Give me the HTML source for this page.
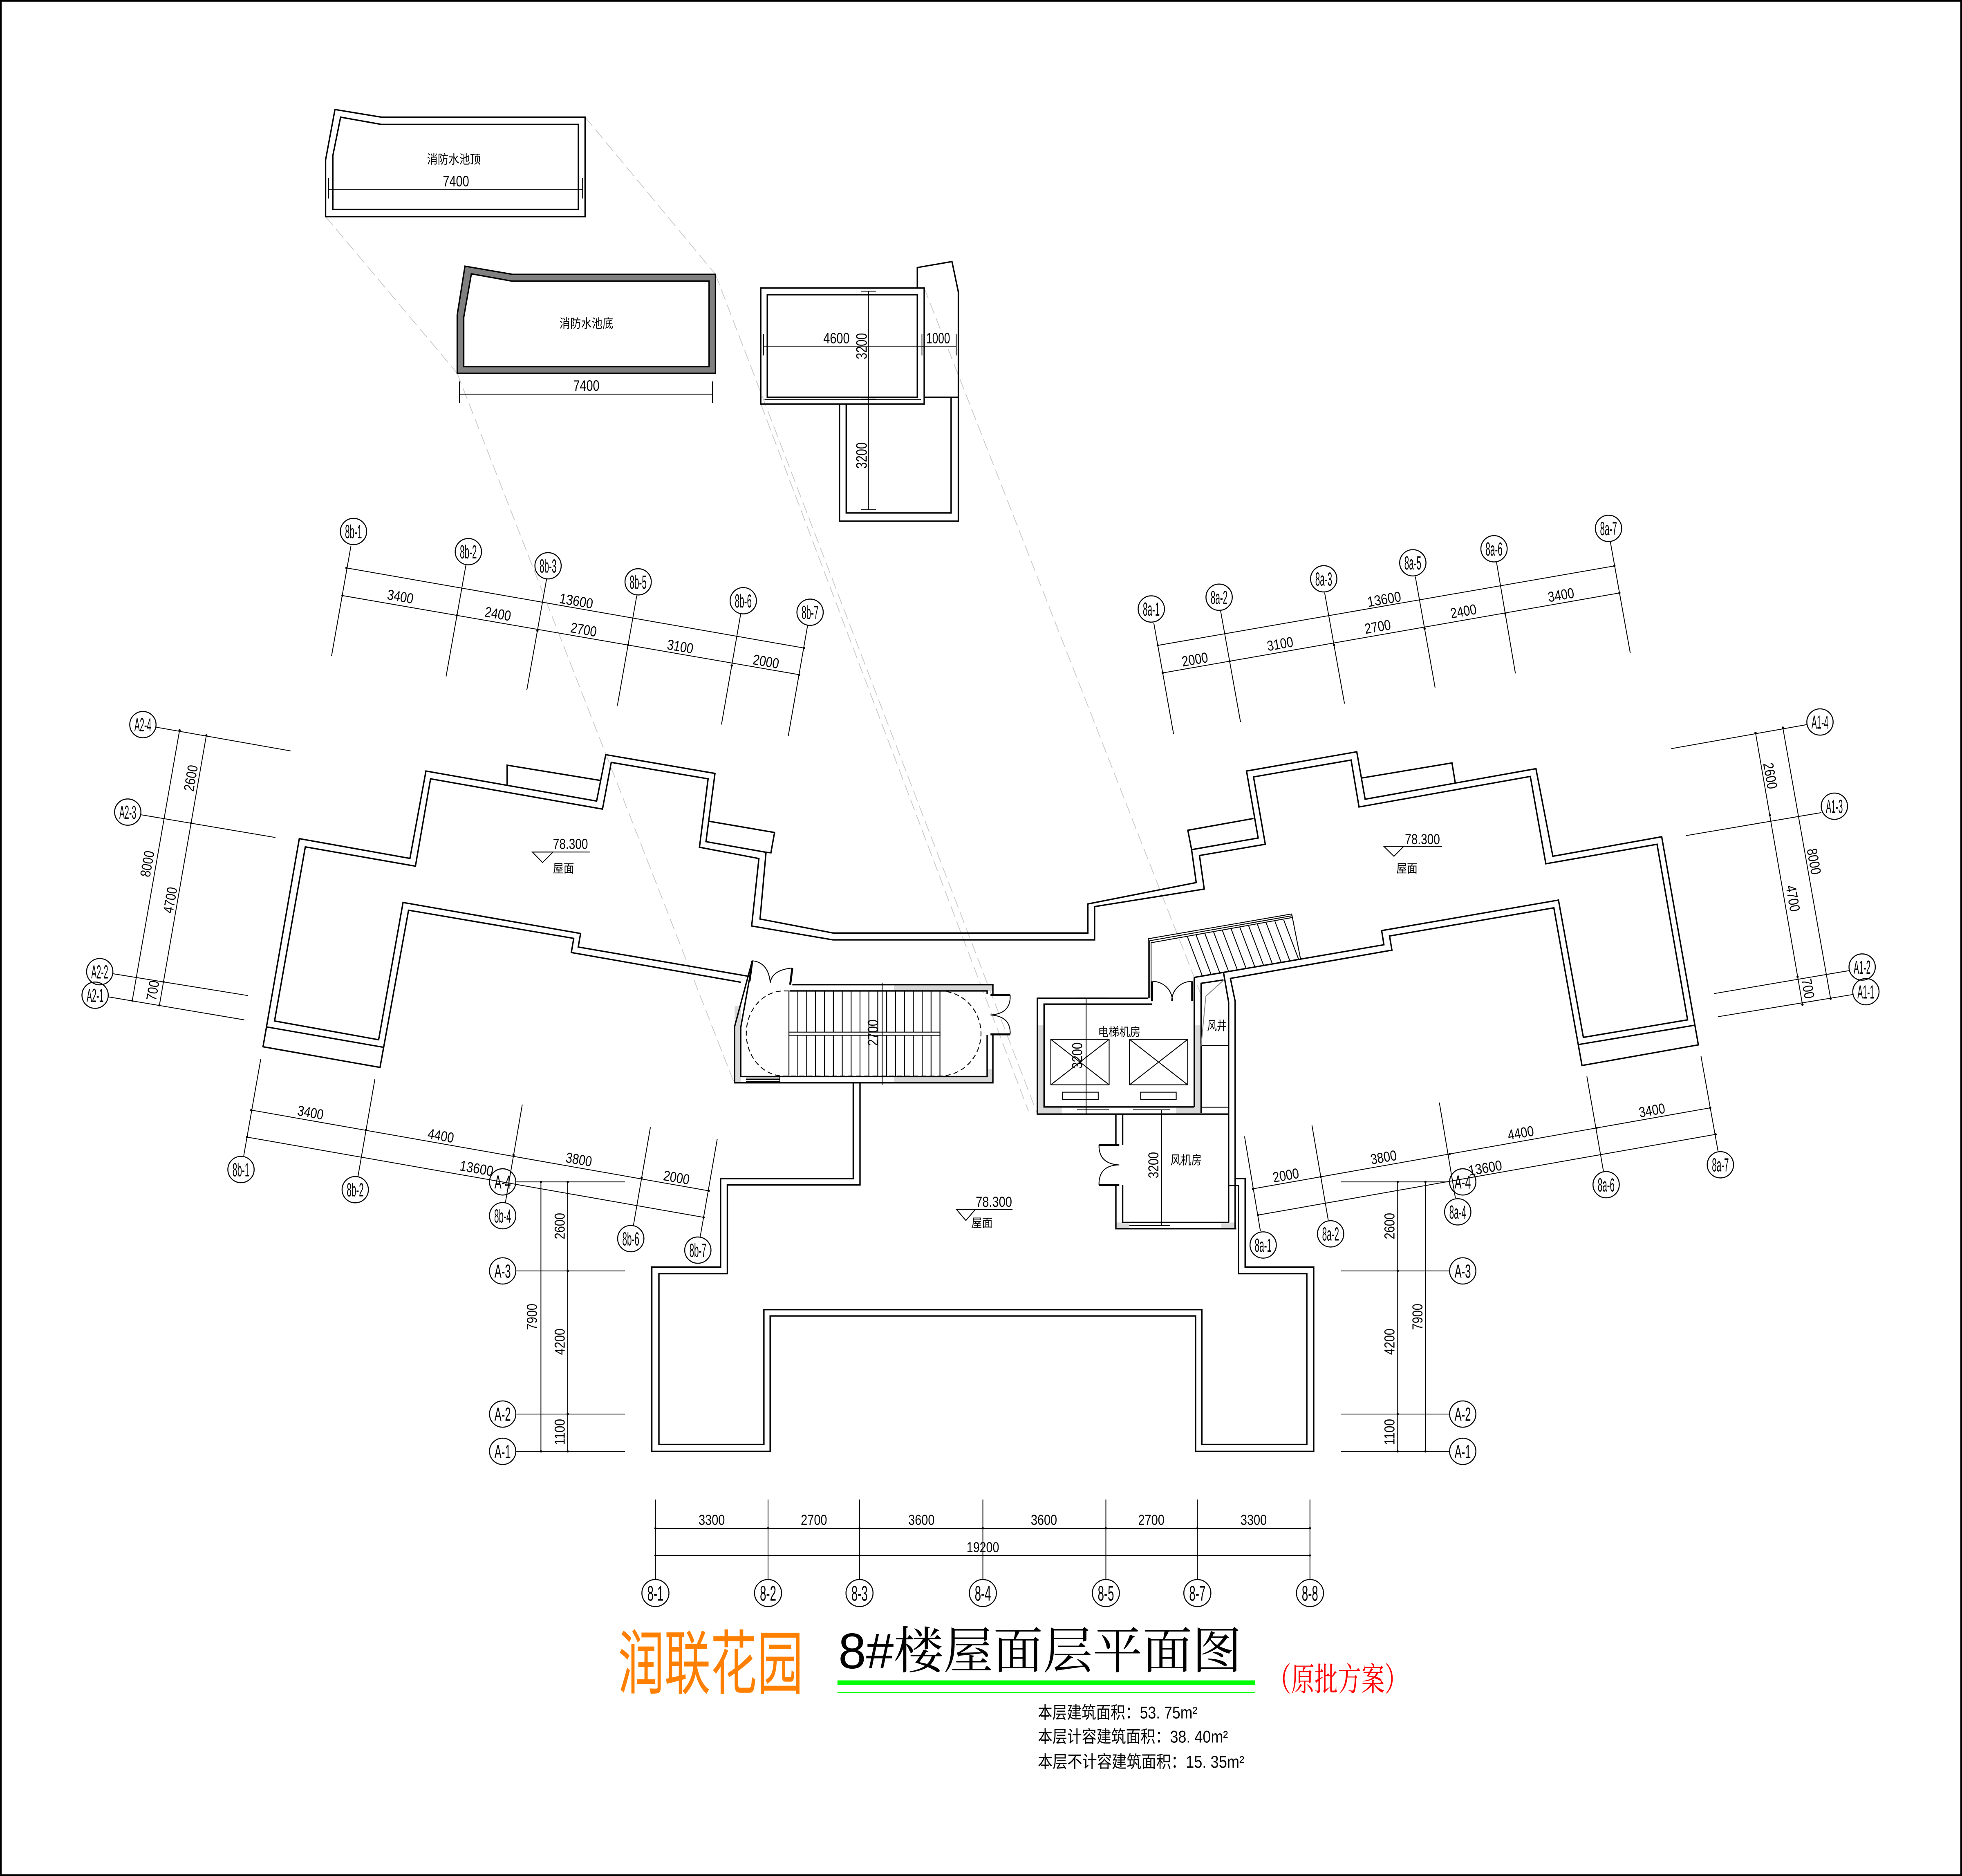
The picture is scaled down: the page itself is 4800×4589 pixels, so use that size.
<!DOCTYPE html>
<html><head><meta charset="utf-8">
<style>
html,body{margin:0;padding:0;background:#fff;}
svg{display:block;}
</style></head><body>
<svg xmlns="http://www.w3.org/2000/svg" width="4800" height="4589" viewBox="0 0 1568 1499" preserveAspectRatio="none" style="font-family:'Liberation Sans','Noto Sans CJK SC',sans-serif">
<rect x="0" y="0" width="1568" height="1499" fill="#fff"/>
<rect x="0.65" y="0.65" width="1566.7" height="1497.7" fill="none" stroke="#000" stroke-width="1.3"/>

<!-- dashed projection lines -->
<g stroke="#c8c8c8" stroke-width="0.6" stroke-dasharray="9 4" fill="none">
<line x1="260.2" y1="173.1" x2="365.4" y2="298.3"/>
<line x1="467.6" y1="93.6" x2="571.8" y2="219.2"/>
<line x1="365.4" y1="298.3" x2="587" y2="866"/>
<line x1="571.8" y1="219.2" x2="829" y2="890"/>
<line x1="608" y1="322.8" x2="822" y2="888"/>
<line x1="738.6" y1="230.1" x2="959.9" y2="795"/>
</g>

<!-- gray fills -->
<g fill="#d9d9d9" stroke="none">
<rect x="714.4" y="786.8" width="79.1" height="5"/>
<rect x="714.4" y="860.2" width="79.1" height="5"/>
<rect x="587.1" y="804" width="4.9" height="61.2"/>
<rect x="788.9" y="854.3" width="4.6" height="6"/>
<rect x="829" y="819.3" width="5.4" height="70.9"/>
<rect x="829" y="884.5" width="19.5" height="5.5"/>
<rect x="940" y="884.5" width="19.9" height="5.5"/>
<rect x="954.4" y="819.3" width="5.5" height="70.9"/>
<rect x="891.8" y="976.8" width="10.8" height="5"/>
<rect x="976" y="976.8" width="12" height="5"/>
</g>

<!-- water tanks -->
<g fill="none" stroke="#000" stroke-width="1.1">
<path d="M267.7,87.5 L304.7,93.6 L467.6,93.6 L467.6,173.1 L260.2,173.1 L260.2,127.8 Z"/>
<path d="M272.2,93.6 L304.7,99.4 L462.2,99.4 L462.2,167.4 L266.0,167.4 L266.0,124.3 Z"/>
<path fill="#808080" fill-rule="evenodd" d="M371.6,212.7 L409.5,219.2 L571.8,219.2 L571.8,298.3 L365.4,298.3 L365.4,251.7 Z M376.7,218.8 L408.9,224.6 L566.7,224.6 L566.7,292.9 L370.6,292.9 L370.6,253.5 Z"/>
<rect x="608" y="230.1" width="130.6" height="92.7"/>
<rect x="613.2" y="235.5" width="119.9" height="81.9"/>
<path d="M733.1,230.1 L733.1,213.8 L760.8,209.0 L765.9,233.3 L765.9,416.4 L670.9,416.4 L670.9,322.8"/>
<path d="M738.6,317.4 L765.9,317.4"/>
<path d="M676.3,322.8 L676.3,409.9 L760.1,409.9 L760.1,317.4"/>
</g>
<g fill="none" stroke="#000" stroke-width="0.6">
<line x1="611" y1="319.3" x2="736" y2="319.3"/>
<line x1="262.6" y1="151.6" x2="465.6" y2="151.6"/>
<line x1="262.6" y1="142.3" x2="262.6" y2="158.6"/>
<line x1="465.6" y1="142.3" x2="465.6" y2="158.6"/>
<line x1="367.2" y1="315" x2="569.4" y2="315"/>
<line x1="367.2" y1="304.8" x2="367.2" y2="322.1"/>
<line x1="569.4" y1="304.8" x2="569.4" y2="322.1"/>
<line x1="610.2" y1="276.6" x2="764.2" y2="276.6"/>
<line x1="610.2" y1="267" x2="610.2" y2="284"/>
<line x1="736.8" y1="267" x2="736.8" y2="284"/>
<line x1="764.2" y1="267" x2="764.2" y2="284"/>
<line x1="694.2" y1="232.7" x2="694.2" y2="407.3"/>
<line x1="688" y1="232.7" x2="700" y2="232.7"/>
<line x1="688" y1="318.9" x2="700" y2="318.9"/>
<line x1="688" y1="407.3" x2="700" y2="407.3"/>
</g>
<g font-size="10" text-anchor="middle">
<text x="362.7" y="130.9" textLength="43" lengthAdjust="spacingAndGlyphs">消防水池顶</text>
<text x="468.6" y="262" textLength="43" lengthAdjust="spacingAndGlyphs">消防水池底</text>
</g>
<g font-size="12" text-anchor="middle">
<text x="364.4" y="149" textLength="21" lengthAdjust="spacingAndGlyphs">7400</text>
<text x="468.6" y="312.3" textLength="21" lengthAdjust="spacingAndGlyphs">7400</text>
<text x="668.5" y="274.4" textLength="21" lengthAdjust="spacingAndGlyphs">4600</text>
<text x="749.8" y="274.4" textLength="19" lengthAdjust="spacingAndGlyphs">1000</text>
<text transform="translate(688.3,276.6) rotate(-90)" dy="0.36em" textLength="21" lengthAdjust="spacingAndGlyphs">3200</text>
<text transform="translate(688.3,364) rotate(-90)" dy="0.36em" textLength="21" lengthAdjust="spacingAndGlyphs">3200</text>
</g>

<!-- building outlines -->
<g fill="none" stroke="#000" stroke-width="1.1" stroke-linejoin="miter">
<path d="M592.3,784.9 L456.6,761.1 L458.5,749.8 L326.5,727.3 L303.7,852.9 L210.2,836.4 L239.2,670.1 L327.6,685.9 L340.4,616.1 L476.8,640.1 L484.1,603.0 L571.4,618.0 L564.2,672.5 L612.2,681.0 L607.4,734.3 L665.7,745.5 L869.4,745.5 L869.4,722.3 L956.0,705.2 L952.3,678.9 L1005.5,669.6 L996.2,616.1 L1084.3,600.7 L1091.0,638.6 L1227.5,614.2 L1241.0,684.2 L1328.0,668.6 L1357.3,834.9 L1264.3,851.4 L1241.8,725.4 L1110.5,747.9 L1112.4,759.2 L983.3,781.8 L987.1,800 L987.1,941.7 L995.1,941.7 L995.1,1012.4 L1049.9,1012.4 L1049.9,1159.7 L955.5,1159.7 L955.5,1051.5 L615.5,1051.5 L615.5,1159.7 L520.9,1159.7 L520.9,1012.4 L575.9,1012.4 L575.9,941.8 L681.9,941.8 L681.9,865.2"/>
<path d="M598.8,780.2 L462.1,756.7 L464.0,745.9 L322.1,721.1 L302.6,830.8 L219.4,815.8 L244.0,676.7 L332.0,692.1 L344.1,622.3 L481.5,646.5 L488.5,609.2 L565.9,622.3 L559,677 L606.5,686 L600.7,739.9 L665.7,751 L874.8,751 L874.8,724.4 L962.4,710.4 L958.6,683.6 L1011.2,674.6 L1001.8,620.8 L1079.8,607.3 L1086.1,644.8 L1223.0,620.4 L1235.4,690.2 L1324.3,674.6 L1348.7,814.9 L1265.4,828.9 L1245.5,719.2 L1104.2,743.6 L1106.0,754.9 L954.4,781.0"/>
<path d="M687.3,865.2 L687.3,946.8 L581.3,946.8 L581.3,1017.7 L526.6,1017.7 L526.6,1154.2 L610.5,1154.2 L610.5,1046.5 L960.5,1046.5 L960.5,1154.2 L1044.4,1154.2 L1044.4,1017.7 L989.7,1017.7 L989.7,947.2 L981.9,947.2 L981.9,800.8 L977.8,777"/>
<line x1="212.8" y1="820.5" x2="306.3" y2="836.8"/>
<line x1="1354.3" y1="819.2" x2="1261.7" y2="834.6"/>
<path d="M405.3,627.4 L405.3,611.4 L479.7,623.6"/>
<path d="M565.9,656.1 L619.0,665.2 L616.1,681.4 L612.2,681.0"/>
<path d="M952.3,678.9 L949.3,663.4 L1001.8,654.0"/>
<path d="M1088.0,621.7 L1160.4,609.6 L1163.0,625.5"/>
<line x1="987.1" y1="941.7" x2="987.1" y2="981.8"/>
<line x1="981.9" y1="947.2" x2="981.9" y2="976.8"/>

<path d="M601.2,767.7 L587.1,820.2 L587.1,865.2 L793.5,865.2 L793.5,826.8"/>
<path d="M598.8,783 L592,821 L592,860.2 L788.9,860.2 L788.9,826.8"/>
<path d="M633.2,786.8 L793.5,786.8 L793.5,794.3"/>
<path d="M631,791.8 L788.9,791.8 L788.9,794.3"/>
<path d="M917.7,797.6 L829,797.6 L829,890.2 L981.9,890.2"/>
<path d="M920.7,802.3 L834.4,802.3 L834.4,884.5 L954.4,884.5"/>
<path d="M954.4,781 L954.4,884.5"/>
<path d="M959.9,889.4 L959.9,785.7 L977.8,783.0"/>
<path d="M891.8,890.2 L891.8,914.8 M891.8,946.8 L891.8,981.8 L988,981.8"/>
<path d="M897.2,890.2 L897.2,914.8 M897.2,946.8 L897.2,976.8 L981.9,976.8"/>
</g>

<g fill="none" stroke="#000" stroke-width="0.7">
<path d="M630.5,791.8V859.8 M637.6,791.8V859.8 M644.7,791.8V859.8 M651.8,791.8V859.8 M658.9,791.8V859.8 M666,791.8V859.8 M673.1,791.8V859.8 M680.2,791.8V859.8 M687.3,791.8V859.8 M694.4,791.8V859.8 M701.5,791.8V859.8 M708.6,791.8V859.8 M715.7,791.8V859.8 M722.8,791.8V859.8 M729.9,791.8V859.8 M737,791.8V859.8 M744.1,791.8V859.8 M751.2,791.8V859.8"/>
<rect x="630.5" y="824.7" width="120.7" height="2.5" fill="#fff"/>
<path d="M626.4,791.8 L751,791.8 A33,34 0 0 1 751,859.8 L626.4,859.8 A30,34 0 0 1 626.4,791.8" stroke-dasharray="4 2.5"/>
<path d="M596.1,861.4 H623.2 M596.1,862.7 H623.2 M596.1,864 H623.2 M623.2,860.2 V865.2"/>
<path d="M601.2,767.7 Q614,769 615.6,785.2 M633.2,773.5 Q617,775 615.6,785.2"/>
<path d="M807.3,795.2 Q808,810 791.6,811 M807.3,826.5 Q808,812 791.6,811"/>
<line x1="705" y1="785.2" x2="705" y2="866.8"/>
<line x1="701" y1="786.8" x2="709" y2="786.8"/>
<line x1="701" y1="865.2" x2="709" y2="865.2"/>
<rect x="839.8" y="830.5" width="46.6" height="36.3"/>
<path d="M839.8,830.5 L886.4,866.8 M886.4,830.5 L839.8,866.8"/>
<rect x="902.7" y="830.5" width="46.5" height="36.3"/>
<path d="M902.7,830.5 L949.2,866.8 M949.2,830.5 L902.7,866.8"/>
<rect x="849" y="872.7" width="28.7" height="5.8"/>
<rect x="911.6" y="872.7" width="28.4" height="5.8"/>
<line x1="868" y1="797.5" x2="868" y2="891"/>
<line x1="860.7" y1="797.6" x2="886.4" y2="797.6" stroke-width="1"/>
<line x1="860.7" y1="886.8" x2="886.4" y2="886.8"/>
<line x1="905.4" y1="886.8" x2="935.2" y2="886.8"/>
<path d="M921.2,784.2 A15.8,15.8 0 0 1 937,800 M952.2,784.2 A15.8,15.8 0 0 0 936.4,800"/>
<line x1="959.9" y1="835.3" x2="981.9" y2="835.3"/>
<line x1="959.9" y1="884.7" x2="981.9" y2="884.7"/>
<path d="M959.9,835.6 L963.7,796 L977.8,783.3" stroke="#888"/>
<path d="M878.3,914.8 Q878,930 894.5,930.8 M878.3,946.8 Q878,931 894.5,930.8"/>
<line x1="928.4" y1="886.8" x2="928.4" y2="979.3"/>
<line x1="902.6" y1="979.3" x2="935" y2="979.3"/>
<path d="M917.7,797.6 L917.7,750.1 L1032.3,730.3 M918.8,797.6 L918.8,751.7 L1032.6,731.7 M919.9,797.6 L919.9,753.3 L1032.9,733.1"/>
<path d="M1032.3,730.3 L1039.4,766.4"/>
<path d="M948.9,748.3 L960.9,779.9 M955.9,747.1 L967.9,778.7 M962.9,745.9 L974.9,777.5 M969.9,744.7 L981.9,776.3 M976.9,743.5 L988.9,775.1 M983.9,742.2 L995.9,773.9 M990.9,741 L1002.9,772.7 M997.9,739.8 L1009.9,771.5 M1004.9,738.6 L1016.9,770.3 M1011.9,737.4 L1023.9,769.1 M1018.9,736.2 L1030.9,767.9 M1025.9,735 L1037.9,766.7"/>
</g>
<g stroke="#000" stroke-width="1.6" fill="none">
<line x1="601.2" y1="767.7" x2="599" y2="784"/>
<line x1="633.2" y1="773.5" x2="631.5" y2="786.8"/>
<line x1="791.6" y1="795.2" x2="807.3" y2="795.2"/>
<line x1="791.6" y1="826.5" x2="807.3" y2="826.5"/>
<line x1="920.7" y1="784.1" x2="920.7" y2="800"/>
<line x1="952.8" y1="784.1" x2="952.8" y2="800"/>
<line x1="878.3" y1="914.8" x2="894.5" y2="914.8"/>
<line x1="878.3" y1="946.8" x2="894.5" y2="946.8"/>
</g>

<g text-anchor="middle">
<text x="894.5" y="827.9" font-size="9.5" textLength="34" lengthAdjust="spacingAndGlyphs">电梯机房</text>
<text x="972.5" y="823.1" font-size="10" textLength="15.5" lengthAdjust="spacingAndGlyphs">风井</text>
<text x="947.9" y="930.4" font-size="10" textLength="25" lengthAdjust="spacingAndGlyphs">风机房</text>
<text x="450.4" y="697.2" font-size="9.5" textLength="17" lengthAdjust="spacingAndGlyphs">屋面</text>
<text x="1124.4" y="697.2" font-size="9.5" textLength="17" lengthAdjust="spacingAndGlyphs">屋面</text>
<text x="784.8" y="980.4" font-size="9.5" textLength="17" lengthAdjust="spacingAndGlyphs">屋面</text>
</g>
<g font-size="11.5" text-anchor="middle">
<text transform="translate(697.4,825.2) rotate(-90)" dy="0.36em" textLength="21" lengthAdjust="spacingAndGlyphs">2700</text>
<text transform="translate(860.7,843.5) rotate(-90)" dy="0.36em" textLength="21" lengthAdjust="spacingAndGlyphs">3200</text>
<text transform="translate(921.6,931) rotate(-90)" dy="0.36em" textLength="21" lengthAdjust="spacingAndGlyphs">3200</text>
<text x="455.9" y="678.3" textLength="28" lengthAdjust="spacingAndGlyphs">78.300</text>
<text x="1136.8" y="674.6" textLength="28" lengthAdjust="spacingAndGlyphs">78.300</text>
<text x="794.3" y="964.3" textLength="29" lengthAdjust="spacingAndGlyphs">78.300</text>
</g>
<g fill="none" stroke="#000" stroke-width="0.7">
<line x1="425.5" y1="680.8" x2="471.3" y2="680.8"/>
<path d="M425.5,680.8 L442,680.8 L433.6,689.2 Z"/>
<line x1="1106" y1="676.3" x2="1152.5" y2="676.3"/>
<path d="M1106,676.3 L1121.8,676.3 L1114,684.2 Z"/>
<line x1="764.5" y1="966.5" x2="809.2" y2="966.5"/>
<path d="M764.5,966.5 L779.4,966.5 L771.9,975.2 Z"/>
</g>

<g fill="none" stroke="#000" stroke-width="0.65">
<line x1="280.5" y1="436" x2="265" y2="524"/>
<line x1="372.3" y1="451.8" x2="356.5" y2="540.5"/>
<line x1="436.8" y1="462.8" x2="421" y2="551.5"/>
<line x1="508.9" y1="475.9" x2="493.4" y2="563.8"/>
<line x1="592" y1="490.3" x2="576.6" y2="578.9"/>
<line x1="645.4" y1="499.9" x2="630" y2="587.9"/>
<line x1="276.9" y1="453.8" x2="642.6" y2="517.8"/>
<line x1="273.7" y1="475.9" x2="638.7" y2="539.1"/>
<line x1="922.1" y1="497.8" x2="937.9" y2="586.5"/>
<line x1="975.5" y1="488.2" x2="991.4" y2="576.9"/>
<line x1="1058.6" y1="473.5" x2="1074.5" y2="562.2"/>
<line x1="1131.1" y1="460.7" x2="1146.9" y2="549.4"/>
<line x1="1196" y1="449.3" x2="1211.1" y2="538.1"/>
<line x1="1287" y1="433.2" x2="1302.9" y2="521.9"/>
<line x1="925.3" y1="515.7" x2="1290.2" y2="452.2"/>
<line x1="929.2" y1="537.7" x2="1294.2" y2="473.8"/>
<line x1="124.5" y1="581" x2="232.2" y2="600"/>
<line x1="112.5" y1="651" x2="220.1" y2="669.2"/>
<line x1="90" y1="778" x2="198.1" y2="795.5"/>
<line x1="86.4" y1="796.5" x2="195.2" y2="814.9"/>
<line x1="143.5" y1="583.5" x2="105.7" y2="799.5"/>
<line x1="164.9" y1="587.6" x2="127.4" y2="803.2"/>
<line x1="1444" y1="579" x2="1335.7" y2="598.2"/>
<line x1="1455.6" y1="649.3" x2="1347.5" y2="667.7"/>
<line x1="1478.1" y1="775.5" x2="1370" y2="793.9"/>
<line x1="1481.1" y1="794.6" x2="1373" y2="812.4"/>
<line x1="1424.8" y1="581.4" x2="1463" y2="798"/>
<line x1="1403" y1="585.6" x2="1440.5" y2="802.7"/>
<line x1="194.8" y1="923.4" x2="208.4" y2="846.2"/>
<line x1="286.1" y1="940" x2="299.6" y2="862.3"/>
<line x1="403.9" y1="961" x2="417.4" y2="882.6"/>
<line x1="506.3" y1="978.7" x2="519.8" y2="900.7"/>
<line x1="559.6" y1="988.1" x2="573.2" y2="910.2"/>
<line x1="200.8" y1="887" x2="566.4" y2="951.5"/>
<line x1="197.5" y1="908.6" x2="562.3" y2="972.7"/>
<line x1="412.2" y1="944.4" x2="499.5" y2="944.4"/>
<line x1="412.2" y1="1015.5" x2="499.5" y2="1015.5"/>
<line x1="412.2" y1="1129.9" x2="499.5" y2="1129.9"/>
<line x1="412.2" y1="1159.7" x2="499.5" y2="1159.7"/>
<line x1="432.3" y1="944.4" x2="432.3" y2="1159.7"/>
<line x1="453.7" y1="944.4" x2="453.7" y2="1159.7"/>
<line x1="1007.3" y1="983.7" x2="994.6" y2="908"/>
<line x1="1061.5" y1="974.9" x2="1048.5" y2="899.2"/>
<line x1="1163.1" y1="957.2" x2="1150.3" y2="881"/>
<line x1="1281.4" y1="935.6" x2="1268.2" y2="860.1"/>
<line x1="1373" y1="919.7" x2="1359.4" y2="843.9"/>
<line x1="1001.4" y1="949.9" x2="1366.8" y2="885.2"/>
<line x1="1005.4" y1="970.9" x2="1371.1" y2="906.4"/>
<line x1="1071.5" y1="944.4" x2="1158.5" y2="944.4"/>
<line x1="1071.5" y1="1015.5" x2="1158.5" y2="1015.5"/>
<line x1="1071.5" y1="1129.9" x2="1158.5" y2="1129.9"/>
<line x1="1071.5" y1="1159.7" x2="1158.5" y2="1159.7"/>
<line x1="1117" y1="944.4" x2="1117" y2="1159.7"/>
<line x1="1139.2" y1="944.4" x2="1139.2" y2="1159.7"/>
<path d="M523.8,1198.2V1262.1 M613.8,1198.2V1262.1 M686.9,1198.2V1262.1 M785.5,1198.2V1262.1 M883.8,1198.2V1262.1 M956.9,1198.2V1262.1 M1046.9,1198.2V1262.1"/>
<line x1="523.8" y1="1221.2" x2="1046.9" y2="1221.2" stroke-width="0.9"/>
<line x1="523.8" y1="1242.9" x2="1046.9" y2="1242.9" stroke-width="0.9"/>
</g>

<g fill="#000">
<circle cx="276.9" cy="453.8" r="0.9"/><circle cx="642.6" cy="517.8" r="0.9"/>
<circle cx="273.7" cy="475.9" r="0.9"/><circle cx="365.1" cy="491.7" r="0.9"/><circle cx="429.5" cy="504" r="0.9"/><circle cx="502" cy="515.4" r="0.9"/><circle cx="584.8" cy="531.8" r="0.9"/><circle cx="638.7" cy="539.1" r="0.9"/>
<circle cx="925.3" cy="515.7" r="0.9"/><circle cx="1290.2" cy="452.2" r="0.9"/>
<circle cx="929.2" cy="537.7" r="0.9"/><circle cx="982.7" cy="528.4" r="0.9"/><circle cx="1066.1" cy="515.5" r="0.9"/><circle cx="1138.5" cy="502.4" r="0.9"/><circle cx="1203" cy="490.2" r="0.9"/><circle cx="1294.2" cy="473.8" r="0.9"/>
<circle cx="143.5" cy="583.5" r="0.9"/><circle cx="105.7" cy="799.5" r="0.9"/><circle cx="164.9" cy="587.6" r="0.9"/><circle cx="152.7" cy="657.8" r="0.9"/><circle cx="130.7" cy="784.6" r="0.9"/><circle cx="127.4" cy="803.2" r="0.9"/>
<circle cx="1424.8" cy="581.4" r="0.9"/><circle cx="1463" cy="798" r="0.9"/><circle cx="1403" cy="585.6" r="0.9"/><circle cx="1414.5" cy="651.5" r="0.9"/><circle cx="1436.6" cy="780.5" r="0.9"/><circle cx="1440.5" cy="802.7" r="0.9"/>
<circle cx="200.8" cy="887" r="0.9"/><circle cx="292.5" cy="902.9" r="0.9"/><circle cx="410.4" cy="922.9" r="0.9"/><circle cx="512.8" cy="941.1" r="0.9"/><circle cx="566.4" cy="951.5" r="0.9"/><circle cx="197.5" cy="908.6" r="0.9"/><circle cx="562.3" cy="972.7" r="0.9"/>
<circle cx="1001.4" cy="949.9" r="0.9"/><circle cx="1055.5" cy="940.3" r="0.9"/><circle cx="1158.5" cy="922.1" r="0.9"/><circle cx="1276" cy="901.2" r="0.9"/><circle cx="1366.8" cy="885.2" r="0.9"/><circle cx="1005.4" cy="970.9" r="0.9"/><circle cx="1371.1" cy="906.4" r="0.9"/>
<circle cx="432.3" cy="944.4" r="0.9"/><circle cx="432.3" cy="1159.7" r="0.9"/><circle cx="453.7" cy="944.4" r="0.9"/><circle cx="453.7" cy="1015.5" r="0.9"/><circle cx="453.7" cy="1129.9" r="0.9"/><circle cx="453.7" cy="1159.7" r="0.9"/>
<circle cx="1117" cy="944.4" r="0.9"/><circle cx="1117" cy="1015.5" r="0.9"/><circle cx="1117" cy="1129.9" r="0.9"/><circle cx="1117" cy="1159.7" r="0.9"/><circle cx="1139.2" cy="944.4" r="0.9"/><circle cx="1139.2" cy="1159.7" r="0.9"/>
<circle cx="523.8" cy="1221.2" r="0.9"/><circle cx="613.8" cy="1221.2" r="0.9"/><circle cx="686.9" cy="1221.2" r="0.9"/><circle cx="785.5" cy="1221.2" r="0.9"/><circle cx="883.8" cy="1221.2" r="0.9"/><circle cx="956.9" cy="1221.2" r="0.9"/><circle cx="1046.9" cy="1221.2" r="0.9"/>
<circle cx="523.8" cy="1242.9" r="0.9"/><circle cx="1046.9" cy="1242.9" r="0.9"/>
</g>

<g font-size="11.5" text-anchor="middle">
<text transform="translate(320,476.5) rotate(9.9)" dy="0.36em" textLength="21" lengthAdjust="spacingAndGlyphs">3400</text>
<text transform="translate(460.6,480) rotate(9.9)" dy="0.36em" textLength="27" lengthAdjust="spacingAndGlyphs">13600</text>
<text transform="translate(398,490.3) rotate(9.9)" dy="0.36em" textLength="21" lengthAdjust="spacingAndGlyphs">2400</text>
<text transform="translate(466.5,502.9) rotate(9.9)" dy="0.36em" textLength="21" lengthAdjust="spacingAndGlyphs">2700</text>
<text transform="translate(543.7,516.4) rotate(9.9)" dy="0.36em" textLength="21" lengthAdjust="spacingAndGlyphs">3100</text>
<text transform="translate(612.2,528.4) rotate(9.9)" dy="0.36em" textLength="21" lengthAdjust="spacingAndGlyphs">2000</text>
<text transform="translate(1106.2,478.6) rotate(-9.9)" dy="0.36em" textLength="27" lengthAdjust="spacingAndGlyphs">13600</text>
<text transform="translate(954.9,526.7) rotate(-9.9)" dy="0.36em" textLength="21" lengthAdjust="spacingAndGlyphs">2000</text>
<text transform="translate(1023,514.3) rotate(-9.9)" dy="0.36em" textLength="21" lengthAdjust="spacingAndGlyphs">3100</text>
<text transform="translate(1101,500.6) rotate(-9.9)" dy="0.36em" textLength="21" lengthAdjust="spacingAndGlyphs">2700</text>
<text transform="translate(1169.5,488.2) rotate(-9.9)" dy="0.36em" textLength="21" lengthAdjust="spacingAndGlyphs">2400</text>
<text transform="translate(1247.5,475.2) rotate(-9.9)" dy="0.36em" textLength="21" lengthAdjust="spacingAndGlyphs">3400</text>
<text transform="translate(117.5,690.2) rotate(-80.1)" dy="0.36em" textLength="21" lengthAdjust="spacingAndGlyphs">8000</text>
<text transform="translate(152.3,621.7) rotate(-80.1)" dy="0.36em" textLength="21" lengthAdjust="spacingAndGlyphs">2600</text>
<text transform="translate(135.8,719.2) rotate(-80.1)" dy="0.36em" textLength="21" lengthAdjust="spacingAndGlyphs">4700</text>
<text transform="translate(121.9,791.4) rotate(-80.1)" dy="0.36em" textLength="16" lengthAdjust="spacingAndGlyphs">700</text>
<text transform="translate(1415,619.9) rotate(80)" dy="0.36em" textLength="21" lengthAdjust="spacingAndGlyphs">2600</text>
<text transform="translate(1449.9,688.3) rotate(80)" dy="0.36em" textLength="21" lengthAdjust="spacingAndGlyphs">8000</text>
<text transform="translate(1433.1,717.9) rotate(80)" dy="0.36em" textLength="21" lengthAdjust="spacingAndGlyphs">4700</text>
<text transform="translate(1445.1,789.9) rotate(80)" dy="0.36em" textLength="16" lengthAdjust="spacingAndGlyphs">700</text>
<text transform="translate(248.2,888.8) rotate(10)" dy="0.36em" textLength="21" lengthAdjust="spacingAndGlyphs">3400</text>
<text transform="translate(352.4,907.3) rotate(10)" dy="0.36em" textLength="21" lengthAdjust="spacingAndGlyphs">4400</text>
<text transform="translate(462.7,926.3) rotate(10)" dy="0.36em" textLength="21" lengthAdjust="spacingAndGlyphs">3800</text>
<text transform="translate(540.7,940.7) rotate(10)" dy="0.36em" textLength="21" lengthAdjust="spacingAndGlyphs">2000</text>
<text transform="translate(380.9,933.4) rotate(10)" dy="0.36em" textLength="27" lengthAdjust="spacingAndGlyphs">13600</text>
<text transform="translate(1027.6,938.9) rotate(-10)" dy="0.36em" textLength="21" lengthAdjust="spacingAndGlyphs">2000</text>
<text transform="translate(1105.7,924.5) rotate(-10)" dy="0.36em" textLength="21" lengthAdjust="spacingAndGlyphs">3800</text>
<text transform="translate(1215.3,905.1) rotate(-10)" dy="0.36em" textLength="21" lengthAdjust="spacingAndGlyphs">4400</text>
<text transform="translate(1320.2,887) rotate(-10)" dy="0.36em" textLength="21" lengthAdjust="spacingAndGlyphs">3400</text>
<text transform="translate(1186.9,933) rotate(-10)" dy="0.36em" textLength="27" lengthAdjust="spacingAndGlyphs">13600</text>
<text transform="translate(425,1052.2) rotate(-90)" dy="0.36em" textLength="21" lengthAdjust="spacingAndGlyphs">7900</text>
<text transform="translate(447.2,979.7) rotate(-90)" dy="0.36em" textLength="21" lengthAdjust="spacingAndGlyphs">2600</text>
<text transform="translate(447.2,1072.1) rotate(-90)" dy="0.36em" textLength="21" lengthAdjust="spacingAndGlyphs">4200</text>
<text transform="translate(447.2,1144.3) rotate(-90)" dy="0.36em" textLength="21" lengthAdjust="spacingAndGlyphs">1100</text>
<text transform="translate(1110.3,979.7) rotate(-90)" dy="0.36em" textLength="21" lengthAdjust="spacingAndGlyphs">2600</text>
<text transform="translate(1110.3,1072.1) rotate(-90)" dy="0.36em" textLength="21" lengthAdjust="spacingAndGlyphs">4200</text>
<text transform="translate(1110.3,1144.3) rotate(-90)" dy="0.36em" textLength="21" lengthAdjust="spacingAndGlyphs">1100</text>
<text transform="translate(1132.7,1052.2) rotate(-90)" dy="0.36em" textLength="21" lengthAdjust="spacingAndGlyphs">7900</text>
<text x="568.8" y="1218.4" textLength="21" lengthAdjust="spacingAndGlyphs">3300</text>
<text x="650.5" y="1218.4" textLength="21" lengthAdjust="spacingAndGlyphs">2700</text>
<text x="736.4" y="1218.4" textLength="21" lengthAdjust="spacingAndGlyphs">3600</text>
<text x="834.3" y="1218.4" textLength="21" lengthAdjust="spacingAndGlyphs">3600</text>
<text x="920.1" y="1218.4" textLength="21" lengthAdjust="spacingAndGlyphs">2700</text>
<text x="1001.9" y="1218.4" textLength="21" lengthAdjust="spacingAndGlyphs">3300</text>
<text x="785.5" y="1240.3" textLength="26" lengthAdjust="spacingAndGlyphs">19200</text>
</g>

<g fill="none" stroke="#000" stroke-width="0.8">
<circle cx="282.5" cy="424.7" r="10.5"/><circle cx="374.3" cy="440.8" r="10.5"/><circle cx="438" cy="452.1" r="10.5"/><circle cx="510" cy="464.9" r="10.5"/><circle cx="594" cy="480" r="10.5"/><circle cx="647.4" cy="489.2" r="10.5"/>
<circle cx="920.1" cy="486.6" r="10.5"/><circle cx="974.3" cy="477.2" r="10.5"/><circle cx="1057.9" cy="462.5" r="10.5"/><circle cx="1129.1" cy="449.7" r="10.5"/><circle cx="1194" cy="438.5" r="10.5"/><circle cx="1285.5" cy="422.2" r="10.5"/>
<circle cx="114.2" cy="579" r="10.5"/><circle cx="102.1" cy="648.9" r="10.5"/><circle cx="79.7" cy="776.4" r="10.5"/><circle cx="76" cy="795.2" r="10.5"/>
<circle cx="1454.5" cy="576.9" r="10.5"/><circle cx="1466" cy="644.2" r="10.5"/><circle cx="1488.2" cy="772.7" r="10.5"/><circle cx="1491.2" cy="792.4" r="10.5"/>
<circle cx="192.6" cy="934.5" r="10.5"/><circle cx="283.9" cy="950.6" r="10.5"/><circle cx="401.7" cy="944.4" r="10.5"/><circle cx="401.7" cy="971.4" r="10.5"/><circle cx="504.1" cy="989.7" r="10.5"/><circle cx="557.7" cy="998.9" r="10.5"/><circle cx="401.7" cy="1015.5" r="10.5"/><circle cx="401.7" cy="1129.9" r="10.5"/><circle cx="401.7" cy="1159.7" r="10.5"/>
<circle cx="1009.5" cy="994.8" r="10.5"/><circle cx="1063.4" cy="985.9" r="10.5"/><circle cx="1169" cy="944.4" r="10.5"/><circle cx="1165" cy="968.3" r="10.5"/><circle cx="1283.6" cy="946.6" r="10.5"/><circle cx="1374.9" cy="930.7" r="10.5"/><circle cx="1169" cy="1015.5" r="10.5"/><circle cx="1169" cy="1129.9" r="10.5"/><circle cx="1169" cy="1159.7" r="10.5"/>
<circle cx="523.8" cy="1272.9" r="10.8"/><circle cx="613.8" cy="1272.9" r="10.8"/><circle cx="686.9" cy="1272.9" r="10.8"/><circle cx="785.5" cy="1272.9" r="10.8"/><circle cx="883.8" cy="1272.9" r="10.8"/><circle cx="956.9" cy="1272.9" r="10.8"/><circle cx="1046.9" cy="1272.9" r="10.8"/>
</g>
<g font-size="15" text-anchor="middle" style="font-family:'Liberation Sans Narrow','Liberation Sans',sans-serif">
<text x="282.5" y="424.7" dy="0.36em" textLength="13.5" lengthAdjust="spacingAndGlyphs">8b-1</text>
<text x="374.3" y="440.8" dy="0.36em" textLength="13.5" lengthAdjust="spacingAndGlyphs">8b-2</text>
<text x="438" y="452.1" dy="0.36em" textLength="13.5" lengthAdjust="spacingAndGlyphs">8b-3</text>
<text x="510" y="464.9" dy="0.36em" textLength="13.5" lengthAdjust="spacingAndGlyphs">8b-5</text>
<text x="594" y="480" dy="0.36em" textLength="13.5" lengthAdjust="spacingAndGlyphs">8b-6</text>
<text x="647.4" y="489.2" dy="0.36em" textLength="13.5" lengthAdjust="spacingAndGlyphs">8b-7</text>
<text x="920.1" y="486.6" dy="0.36em" textLength="13.5" lengthAdjust="spacingAndGlyphs">8a-1</text>
<text x="974.3" y="477.2" dy="0.36em" textLength="13.5" lengthAdjust="spacingAndGlyphs">8a-2</text>
<text x="1057.9" y="462.5" dy="0.36em" textLength="13.5" lengthAdjust="spacingAndGlyphs">8a-3</text>
<text x="1129.1" y="449.7" dy="0.36em" textLength="13.5" lengthAdjust="spacingAndGlyphs">8a-5</text>
<text x="1194" y="438.5" dy="0.36em" textLength="13.5" lengthAdjust="spacingAndGlyphs">8a-6</text>
<text x="1285.5" y="422.2" dy="0.36em" textLength="13.5" lengthAdjust="spacingAndGlyphs">8a-7</text>
<text x="114.2" y="579" dy="0.36em" textLength="13.5" lengthAdjust="spacingAndGlyphs">A2-4</text>
<text x="102.1" y="648.9" dy="0.36em" textLength="13.5" lengthAdjust="spacingAndGlyphs">A2-3</text>
<text x="79.7" y="776.4" dy="0.36em" textLength="13.5" lengthAdjust="spacingAndGlyphs">A2-2</text>
<text x="76" y="795.2" dy="0.36em" textLength="13.5" lengthAdjust="spacingAndGlyphs">A2-1</text>
<text x="1454.5" y="576.9" dy="0.36em" textLength="13.5" lengthAdjust="spacingAndGlyphs">A1-4</text>
<text x="1466" y="644.2" dy="0.36em" textLength="13.5" lengthAdjust="spacingAndGlyphs">A1-3</text>
<text x="1488.2" y="772.7" dy="0.36em" textLength="13.5" lengthAdjust="spacingAndGlyphs">A1-2</text>
<text x="1491.2" y="792.4" dy="0.36em" textLength="13.5" lengthAdjust="spacingAndGlyphs">A1-1</text>
<text x="192.6" y="934.5" dy="0.36em" textLength="13.5" lengthAdjust="spacingAndGlyphs">8b-1</text>
<text x="283.9" y="950.6" dy="0.36em" textLength="13.5" lengthAdjust="spacingAndGlyphs">8b-2</text>
<text x="401.7" y="944.4" dy="0.36em" textLength="13" lengthAdjust="spacingAndGlyphs">A-4</text>
<text x="401.7" y="971.4" dy="0.36em" textLength="13.5" lengthAdjust="spacingAndGlyphs">8b-4</text>
<text x="504.1" y="989.7" dy="0.36em" textLength="13.5" lengthAdjust="spacingAndGlyphs">8b-6</text>
<text x="557.7" y="998.9" dy="0.36em" textLength="13.5" lengthAdjust="spacingAndGlyphs">8b-7</text>
<text x="401.7" y="1015.5" dy="0.36em" textLength="13" lengthAdjust="spacingAndGlyphs">A-3</text>
<text x="401.7" y="1129.9" dy="0.36em" textLength="13" lengthAdjust="spacingAndGlyphs">A-2</text>
<text x="401.7" y="1159.7" dy="0.36em" textLength="13" lengthAdjust="spacingAndGlyphs">A-1</text>
<text x="1009.5" y="994.8" dy="0.36em" textLength="13.5" lengthAdjust="spacingAndGlyphs">8a-1</text>
<text x="1063.4" y="985.9" dy="0.36em" textLength="13.5" lengthAdjust="spacingAndGlyphs">8a-2</text>
<text x="1169" y="944.4" dy="0.36em" textLength="13" lengthAdjust="spacingAndGlyphs">A-4</text>
<text x="1165" y="968.3" dy="0.36em" textLength="13.5" lengthAdjust="spacingAndGlyphs">8a-4</text>
<text x="1283.6" y="946.6" dy="0.36em" textLength="13.5" lengthAdjust="spacingAndGlyphs">8a-6</text>
<text x="1374.9" y="930.7" dy="0.36em" textLength="13.5" lengthAdjust="spacingAndGlyphs">8a-7</text>
<text x="1169" y="1015.5" dy="0.36em" textLength="13" lengthAdjust="spacingAndGlyphs">A-3</text>
<text x="1169" y="1129.9" dy="0.36em" textLength="13" lengthAdjust="spacingAndGlyphs">A-2</text>
<text x="1169" y="1159.7" dy="0.36em" textLength="13" lengthAdjust="spacingAndGlyphs">A-1</text>
</g>
<g font-size="17" text-anchor="middle" style="font-family:'Liberation Sans Narrow','Liberation Sans',sans-serif">
<text x="523.8" y="1272.9" dy="0.36em" textLength="13" lengthAdjust="spacingAndGlyphs">8-1</text>
<text x="613.8" y="1272.9" dy="0.36em" textLength="13" lengthAdjust="spacingAndGlyphs">8-2</text>
<text x="686.9" y="1272.9" dy="0.36em" textLength="13" lengthAdjust="spacingAndGlyphs">8-3</text>
<text x="785.5" y="1272.9" dy="0.36em" textLength="13" lengthAdjust="spacingAndGlyphs">8-4</text>
<text x="883.8" y="1272.9" dy="0.36em" textLength="13" lengthAdjust="spacingAndGlyphs">8-5</text>
<text x="956.9" y="1272.9" dy="0.36em" textLength="13" lengthAdjust="spacingAndGlyphs">8-7</text>
<text x="1046.9" y="1272.9" dy="0.36em" textLength="13" lengthAdjust="spacingAndGlyphs">8-8</text>
</g>

<!-- title block -->
<text x="567.9" y="1349" font-size="56" text-anchor="middle" textLength="148" lengthAdjust="spacingAndGlyphs" fill="#ff8000" style="font-family:'Liberation Sans','Noto Sans CJK SC',sans-serif">润联花园</text>
<text x="670" y="1333" font-size="40" textLength="322.5" lengthAdjust="spacingAndGlyphs" fill="#000" style="font-family:'Liberation Sans','Noto Serif CJK SC','Noto Serif CJK JP',serif">8#楼屋面层平面图</text>
<rect x="669.3" y="1342.7" width="333.7" height="3.6" fill="#00ff00"/>
<line x1="669.3" y1="1352.3" x2="1003" y2="1352.3" stroke="#00ff00" stroke-width="0.6"/>
<text x="1013.2" y="1351" font-size="26" textLength="112" lengthAdjust="spacingAndGlyphs" fill="#ff0000" style="font-family:'Liberation Serif','Noto Serif CJK SC','Noto Serif CJK JP',serif">（原批方案）</text>
<g font-size="13.5" fill="#000" style="font-family:'Liberation Sans','Noto Sans CJK SC',sans-serif">
<text x="829.4" y="1373" textLength="127.5" lengthAdjust="spacingAndGlyphs">本层建筑面积：53. 75m²</text>
<text x="829.4" y="1392.3" textLength="152" lengthAdjust="spacingAndGlyphs">本层计容建筑面积：38. 40m²</text>
<text x="829.4" y="1412.5" textLength="165" lengthAdjust="spacingAndGlyphs">本层不计容建筑面积：15. 35m²</text>
</g>
</svg>
</body></html>
